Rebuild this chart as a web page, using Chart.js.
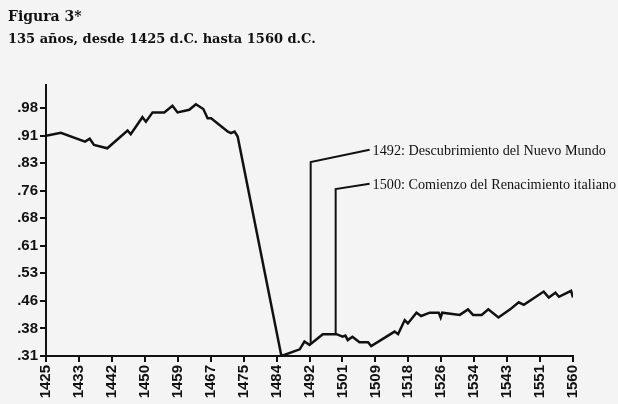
<!DOCTYPE html>
<html>
<head>
  <title>Figura 3*</title>
  <script src="https://cdn.jsdelivr.net/npm/chart.js"></script>
  <style>
    body { margin: 0; background: #f4f4f4; }
    #wrap { position: relative; width: 618px; height: 404px; overflow: hidden; }
    canvas { position: absolute; left: 0; top: 0; }
    .t1, .t2 { position: absolute; left: 8px; font-family: "DejaVu Serif", serif; font-weight: bold; color: #111; white-space: nowrap; line-height: 1; }
    .t1 { top: 9px; font-size: 14px; }
    .t2 { top: 32px; font-size: 13px; }
  </style>
</head>
<body>
  <div id="wrap">
    <canvas id="chart" width="618" height="404"></canvas>
    <div class="t1">Figura 3*</div>
    <div class="t2">135 años, desde 1425 d.C. hasta 1560 d.C.</div>
  </div>
  <script>
    // values (year, index)
    const years = [1425, 1428.8, 1435, 1436.2, 1437.3, 1440.7, 1445.9, 1446.7, 1449.7, 1450.6,
      1452.3, 1455.3, 1457.4, 1458.7, 1461.7, 1463.4, 1465.3, 1466.4, 1467.3, 1471.6,
      1472.4, 1473.3, 1474.1, 1485.3, 1490, 1491.2, 1492.5, 1495.9, 1499.4, 1501,
      1501.7, 1502.3, 1503.5, 1505.3, 1507.5, 1508.3, 1514.3, 1515.2, 1516.9, 1517.7,
      1519.9, 1521.1, 1523.3, 1525.6, 1526.1, 1526.5, 1531, 1533.1, 1534.4, 1536.6,
      1538.3, 1540.9, 1543.9, 1546.1, 1547.4, 1552.5, 1553.8, 1555.5, 1556.4, 1559.5, 1560];
    const values = [0.905, 0.913, 0.889, 0.897, 0.880, 0.871, 0.919, 0.909, 0.955, 0.943,
      0.968, 0.968, 0.986, 0.968, 0.975, 0.990, 0.977, 0.952, 0.952, 0.916,
      0.912, 0.916, 0.903, 0.310, 0.328, 0.349, 0.340, 0.369, 0.369, 0.362,
      0.365, 0.353, 0.362, 0.347, 0.347, 0.337, 0.376, 0.369, 0.407, 0.398,
      0.427, 0.418, 0.427, 0.427, 0.414, 0.427, 0.421, 0.436, 0.421, 0.421,
      0.436, 0.414, 0.436, 0.455, 0.448, 0.484, 0.468, 0.481, 0.470, 0.486, 0.468];

    const xTickLabels = ['1425', '1433', '1442', '1450', '1459', '1467', '1475', '1484', '1492',
      '1501', '1509', '1518', '1526', '1534', '1543', '1551', '1560'];
    const yTickLabels = ['.31', '.38', '.46', '.53', '.61', '.68', '.76', '.83', '.91', '.98'];

    // events marked on the line
    const eventLabels = ['1492: Descubrimiento del Nuevo Mundo', '1500: Comienzo del Renacimiento italiano'];
    const eventYears = [1492.8, 1499.2];
    const eventBase = [0.345, 0.369];
    const eventElbow = [0.834, 0.761];
    const eventTextYear = [1507.9, 1507.9];
    const eventTextValue = [0.867, 0.775];

    const xMin = 1425, xMax = 1560;
    const yMin = 0.31, yLast = 0.98, yMax = 1.042;

    const ink = '#111';
    const tickFont = { family: '"Liberation Sans", Arial, sans-serif', size: 15, weight: 'bold' };

    const eventsPlugin = {
      id: 'events',
      afterDraw(chart) {
        const ctx = chart.ctx, x = chart.scales.x, y = chart.scales.y;
        ctx.save();
        ctx.strokeStyle = ink;
        ctx.lineWidth = 2;
        ctx.fillStyle = ink;
        ctx.font = '14.2px "Liberation Serif", serif';
        ctx.textBaseline = 'middle';
        eventLabels.forEach((txt, i) => {
          const px = x.getPixelForValue(eventYears[i]);
          const tx = x.getPixelForValue(eventTextYear[i]);
          const ty = y.getPixelForValue(eventTextValue[i]);
          ctx.beginPath();
          ctx.moveTo(px, y.getPixelForValue(eventBase[i]));
          ctx.lineTo(px, y.getPixelForValue(eventElbow[i]));
          ctx.lineTo(tx, ty);
          ctx.stroke();
          ctx.fillText(txt, tx + 3, ty + 1);
        });
        ctx.restore();
      }
    };

    new Chart(document.getElementById('chart'), {
      type: 'line',
      data: {
        datasets: [{
          data: years.map((yr, i) => ({ x: yr, y: values[i] })),
          borderColor: ink,
          borderWidth: 2.5,
          pointRadius: 0,
          tension: 0,
          fill: false
        }]
      },
      options: {
        responsive: false,
        animation: false,
        layout: { padding: { left: 0, top: 85, right: 45, bottom: 0 } },
        plugins: { legend: { display: false }, tooltip: { enabled: false } },
        scales: {
          x: {
            type: 'linear',
            min: xMin,
            max: xMax,
            afterBuildTicks: s => {
              s.ticks = xTickLabels.map((t, i) => ({ value: xMin + i * (xMax - xMin) / (xTickLabels.length - 1) }));
            },
            afterFit: s => { s.height = 48; },
            grid: { drawOnChartArea: false, drawTicks: true, tickLength: 6, color: ink, lineWidth: 2 },
            border: { display: true, color: ink, width: 2 },
            ticks: {
              autoSkip: false,
              minRotation: 90,
              maxRotation: 90,
              padding: 3,
              color: ink,
              font: tickFont,
              callback: (v, i) => xTickLabels[i]
            }
          },
          y: {
            min: yMin,
            max: yMax,
            afterBuildTicks: s => {
              s.ticks = yTickLabels.map((t, i) => ({ value: yMin + i * (yLast - yMin) / (yTickLabels.length - 1) }));
            },
            afterFit: s => { s.width = 46; },
            grid: { drawOnChartArea: false, drawTicks: true, tickLength: 6, color: ink, lineWidth: 2 },
            border: { display: true, color: ink, width: 2 },
            ticks: {
              autoSkip: false,
              padding: 2,
              color: ink,
              font: tickFont,
              callback: (v, i) => yTickLabels[i]
            }
          }
        }
      },
      plugins: [eventsPlugin]
    });
  </script>
</body>
</html>
